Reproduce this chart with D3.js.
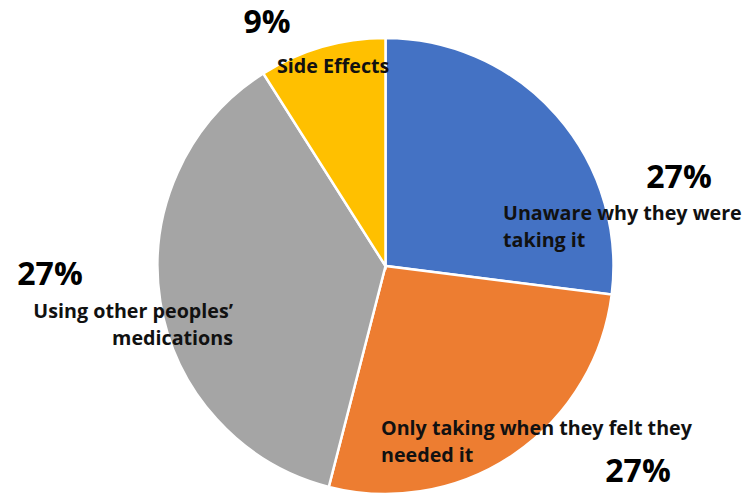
<!DOCTYPE html>
<html>
<head>
<meta charset="utf-8">
<script src="https://cdn.jsdelivr.net/npm/d3@7"></script>
<style>
  html, body { margin: 0; padding: 0; background: #fff; }
  svg { display: block; }
</style>
</head>
<body>
<div id="chart"></div>
<script>
// slice data, clockwise from 12 o'clock
const categories = [
    'Unaware why they were taking it',
    'Only taking when they felt they needed it',
    'Using other peoples\u2019 medications',
    'Side Effects'
];
const values = [27, 27, 37, 9];
// percentage labels as printed on the chart
const pctLabels = ['27%', '27%', '27%', '9%'];
const labelLines = [
    ['Unaware why they were', 'taking it'],
    ['Only taking when they felt they', 'needed it'],
    ['Using other peoples\u2019', 'medications'],
    ['Side Effects']
];
const colors = ['#4472C4', '#ED7D31', '#A5A5A5', '#FFC000'];

const W = 750, H = 499;
const cx = 385.5, cy = 266, radius = 228;

// label placement (manual, like the original)
const layout = [
    { pct: [679, 188], text: [503, 220], anchor: 'start' },
    { pct: [638, 482], text: [381, 435], anchor: 'start' },
    { pct: [50, 285],  text: [233, 318], anchor: 'end' },
    { pct: [267, 33],  text: [277, 73],  anchor: 'start' }
];

const svg = d3.select('#chart').append('svg')
    .attr('width', W).attr('height', H);

const pie = d3.pie().sort(null).value(d => d)(values);
const arc = d3.arc().innerRadius(0).outerRadius(radius);

const g = svg.append('g').attr('transform', `translate(${cx},${cy})`);
g.selectAll('path')
    .data(pie)
    .join('path')
    .attr('d', arc)
    .attr('fill', (d, i) => colors[i])
    .attr('stroke', '#fff')
    .attr('stroke-width', 2.5);

const font = '"Open Sans", "Liberation Sans", sans-serif';

// percentages
svg.selectAll('text.pct')
    .data(pctLabels)
    .join('text')
    .attr('class', 'pct')
    .attr('x', (d, i) => layout[i].pct[0])
    .attr('y', (d, i) => layout[i].pct[1])
    .attr('text-anchor', 'middle')
    .attr('font-family', font)
    .attr('font-weight', 700)
    .attr('font-size', '32px')
    .attr('fill', '#000')
    .text(d => d);

// category labels
const lbl = svg.selectAll('text.lbl')
    .data(labelLines)
    .join('text')
    .attr('class', 'lbl')
    .attr('text-anchor', (d, i) => layout[i].anchor)
    .attr('font-family', font)
    .attr('font-weight', 700)
    .attr('font-size', '19.7px')
    .attr('fill', '#111');

lbl.each(function(lines, i) {
    const t = d3.select(this);
    lines.forEach((line, j) => {
        t.append('tspan')
            .attr('x', layout[i].text[0])
            .attr('y', layout[i].text[1] + j * 27)
            .text(line);
    });
});
</script>
</body>
</html>
